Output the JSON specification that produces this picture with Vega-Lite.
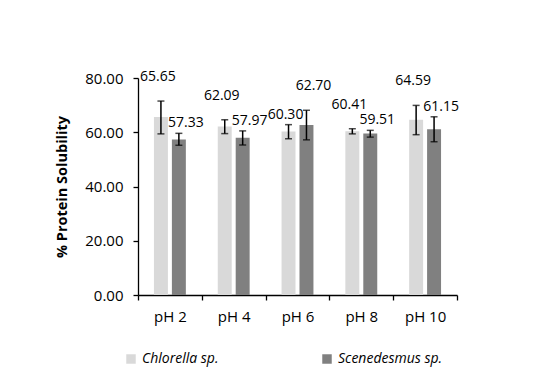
{
  "$schema": "https://vega.github.io/schema/vega-lite/v6.json",
  "autosize": "none",
  "width": 319,
  "height": 217,
  "padding": {"left": 138, "top": 78, "right": 93, "bottom": 88},
  "background": "white",
  "config": {
    "view": {"stroke": null},
    "font": "Open Sans",
    "axis": {"labelFont": "Open Sans", "titleFont": "Open Sans", "labelColor": "#000", "titleColor": "#000", "domainColor": "#000", "tickColor": "#000", "grid": false}
  },
  "data": {
    "values": [
      {"ph": "pH 2", "species": "Chlorella sp.", "value": 65.65, "lo": 59.4, "hi": 71.5},
      {"ph": "pH 2", "species": "Scenedesmus sp.", "value": 57.33, "lo": 55.2, "hi": 59.6},
      {"ph": "pH 4", "species": "Chlorella sp.", "value": 62.09, "lo": 59.5, "hi": 64.6},
      {"ph": "pH 4", "species": "Scenedesmus sp.", "value": 57.97, "lo": 55.3, "hi": 60.5},
      {"ph": "pH 6", "species": "Chlorella sp.", "value": 60.30, "lo": 57.6, "hi": 62.8},
      {"ph": "pH 6", "species": "Scenedesmus sp.", "value": 62.70, "lo": 57.2, "hi": 68.1},
      {"ph": "pH 8", "species": "Chlorella sp.", "value": 60.41, "lo": 59.4, "hi": 61.3},
      {"ph": "pH 8", "species": "Scenedesmus sp.", "value": 59.51, "lo": 58.2, "hi": 60.7},
      {"ph": "pH 10", "species": "Chlorella sp.", "value": 64.59, "lo": 59.1, "hi": 69.9},
      {"ph": "pH 10", "species": "Scenedesmus sp.", "value": 61.15, "lo": 56.5, "hi": 65.7}
    ]
  },
  "transform": [
    {"joinaggregate": [{"op": "max", "field": "hi", "as": "maxhi"}], "groupby": ["ph"]}
  ],
  "encoding": {
    "x": {
      "field": "ph", "type": "nominal", "sort": null,
      "scale": {"paddingInner": 0, "paddingOuter": 0},
      "axis": {"title": null, "labelAngle": 0, "labelFontSize": 15, "tickSize": 5, "labelPadding": 9, "tickBand": "extent", "domainWidth": 1.3, "tickWidth": 1.3}
    },
    "xOffset": {
      "field": "species", "type": "nominal", "sort": null,
      "scale": {"paddingInner": 0.222, "paddingOuter": 0.889}
    }
  },
  "layer": [
    {
      "mark": {"type": "bar"},
      "encoding": {
        "y": {
          "field": "value", "type": "quantitative",
          "scale": {"domain": [0, 80]},
          "axis": {"title": "% Protein Solubility", "titleFontSize": 14.5, "titleFontWeight": "bold", "titlePadding": 15, "values": [0, 20, 40, 60, 80], "format": ".2f", "labelFontSize": 15, "tickSize": 5, "labelPadding": 10, "domainWidth": 1.3, "tickWidth": 1.3}
        },
        "color": {
          "field": "species", "type": "nominal", "sort": null,
          "scale": {"range": ["#d9d9d9", "#808080"]},
          "legend": {
            "title": null, "orient": "none", "direction": "horizontal",
            "legendX": -14, "legendY": 274,
            "symbolType": "square", "symbolSize": 90, "symbolStrokeWidth": 0,
            "labelFontSize": 14, "labelFontStyle": "italic", "labelColor": "#000",
            "columnPadding": 101, "labelOffset": 4
          }
        }
      }
    },
    {
      "mark": {"type": "rule", "strokeWidth": 1.5, "color": "#000"},
      "encoding": {
        "y": {"field": "lo", "type": "quantitative"},
        "y2": {"field": "hi"}
      }
    },
    {
      "mark": {"type": "tick", "size": 7, "thickness": 1.5, "color": "#000"},
      "encoding": {"y": {"field": "lo", "type": "quantitative"}}
    },
    {
      "mark": {"type": "tick", "size": 7, "thickness": 1.5, "color": "#000"},
      "encoding": {"y": {"field": "hi", "type": "quantitative"}}
    },
    {
      "transform": [{"filter": "datum.hi == datum.maxhi && datum.species == 'Chlorella sp.'"}],
      "mark": {"type": "text", "fontSize": 14, "color": "#000", "baseline": "middle", "dy": -24, "dx": -3},
      "encoding": {
        "y": {"field": "hi", "type": "quantitative"},
        "text": {"field": "value", "type": "quantitative", "format": ".2f"}
      }
    },
    {
      "transform": [{"filter": "datum.hi == datum.maxhi && datum.species == 'Scenedesmus sp.'"}],
      "mark": {"type": "text", "fontSize": 14, "color": "#000", "baseline": "middle", "dy": -24, "dx": 7},
      "encoding": {
        "y": {"field": "hi", "type": "quantitative"},
        "text": {"field": "value", "type": "quantitative", "format": ".2f"}
      }
    },
    {
      "transform": [{"filter": "datum.hi < datum.maxhi && datum.species == 'Chlorella sp.'"}],
      "mark": {"type": "text", "fontSize": 14, "color": "#000", "baseline": "middle", "dy": -10, "dx": -3},
      "encoding": {
        "y": {"field": "hi", "type": "quantitative"},
        "text": {"field": "value", "type": "quantitative", "format": ".2f"}
      }
    },
    {
      "transform": [{"filter": "datum.hi < datum.maxhi && datum.species == 'Scenedesmus sp.'"}],
      "mark": {"type": "text", "fontSize": 14, "color": "#000", "baseline": "middle", "dy": -10, "dx": 7},
      "encoding": {
        "y": {"field": "hi", "type": "quantitative"},
        "text": {"field": "value", "type": "quantitative", "format": ".2f"}
      }
    }
  ]
}
